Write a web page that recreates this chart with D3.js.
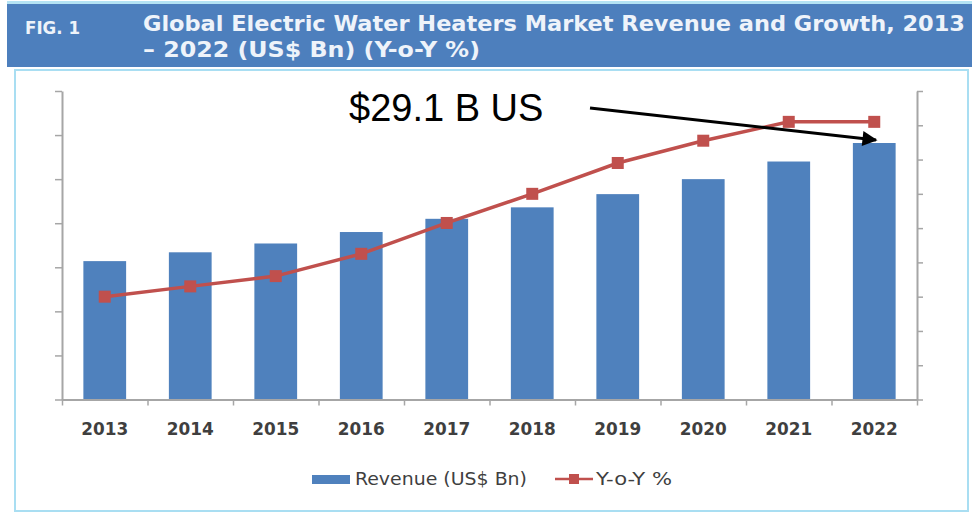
<!DOCTYPE html>
<html>
<head>
<meta charset="utf-8">
<script src="https://cdn.jsdelivr.net/npm/d3@7"></script>
<style>
  body { margin: 0; background: #fff; }
  svg { display: block; }
</style>
</head>
<body>
<svg id="chart" width="972" height="516"></svg>
<script>
const years = ["2013", "2014", "2015", "2016", "2017", "2018", "2019", "2020", "2021", "2022"];
const revenue = [15.7, 16.7, 17.7, 19.0, 20.5, 21.8, 23.3, 25.0, 27.0, 29.1];
const yoy = [3.0, 3.3, 3.6, 4.25, 5.15, 6.0, 6.9, 7.55, 8.1, 8.1];
const leftTicks = [0, 5, 10, 15, 20, 25, 30, 35];
const rightTicks = [0, 1, 2, 3, 4, 5, 6, 7, 8, 9];

const svg = d3.select("#chart");
const barColor = "#4f81bd";
const lineColor = "#c0504d";
const axisColor = "#a6a6a6";
const condensed = "DejaVu Sans Condensed, DejaVu Sans";

// frame + title banner
svg.append("rect")
  .attr("x", 15).attr("y", 70).attr("width", 953).attr("height", 441)
  .attr("fill", "#fff").attr("stroke", "#a9def2").attr("stroke-width", 2);
svg.append("rect")
  .attr("x", 7).attr("y", 1).attr("width", 965).attr("height", 3)
  .attr("fill", "#b5e3f4");
svg.append("rect")
  .attr("x", 7).attr("y", 4).attr("width", 965).attr("height", 63)
  .attr("fill", "#4d7fbd");

svg.append("text")
  .attr("x", 25).attr("y", 34)
  .attr("font-family", condensed)
  .attr("font-stretch", "condensed")
  .attr("font-weight", "bold").attr("font-size", 17)
  .attr("fill", "#eef3fa")
  .attr("textLength", 55).attr("lengthAdjust", "spacingAndGlyphs")
  .text("FIG. 1");
svg.append("text")
  .attr("x", 143).attr("y", 31)
  .attr("font-family", condensed)
  .attr("font-stretch", "condensed")
  .attr("font-weight", "bold").attr("font-size", 22)
  .attr("fill", "#eef3fa")
  .attr("textLength", 822).attr("lengthAdjust", "spacingAndGlyphs")
  .text("Global Electric Water Heaters Market Revenue and Growth, 2013");
svg.append("text")
  .attr("x", 143).attr("y", 57)
  .attr("font-family", condensed)
  .attr("font-stretch", "condensed")
  .attr("font-weight", "bold").attr("font-size", 22)
  .attr("fill", "#eef3fa")
  .attr("textLength", 337).attr("lengthAdjust", "spacingAndGlyphs")
  .text("\u2013 2022 (US$ Bn) (Y-o-Y %)");

// scales
const x0 = 62, x1 = 917, yBase = 399.5, yTop = 91;
const x = d3.scaleBand().domain(years).range([x0, x1])
  .paddingInner(0.5).paddingOuter(0.25);
const xTick = d3.scaleLinear().domain([0, years.length]).range([x0, x1]);
const yLeft = d3.scaleLinear().domain([0, 35]).range([yBase, yTop]);
const yRight = d3.scaleLinear().domain([0, 9]).range([yBase, yTop]);

// bars
svg.append("g")
  .selectAll("rect")
  .data(revenue)
  .join("rect")
  .attr("x", (d, i) => x(years[i]))
  .attr("y", d => yLeft(d))
  .attr("width", x.bandwidth())
  .attr("height", d => yBase - yLeft(d))
  .attr("fill", barColor);

// axes
function styleAxis(g) {
  g.select(".domain").attr("stroke", axisColor).attr("stroke-width", 2);
  g.selectAll(".tick line").attr("stroke", axisColor).attr("stroke-width", 1.5);
  g.selectAll(".tick text").remove();
}
svg.append("g")
  .attr("transform", `translate(${x0},0)`)
  .call(d3.axisLeft(yLeft).tickValues(leftTicks).tickSize(7).tickSizeOuter(0).tickFormat(""))
  .call(styleAxis);
svg.append("g")
  .attr("transform", `translate(${x1},0)`)
  .call(d3.axisRight(yRight).tickValues(rightTicks).tickSize(6).tickSizeOuter(0).tickFormat(""))
  .call(styleAxis);
svg.append("g")
  .attr("transform", `translate(0,${yBase})`)
  .call(d3.axisBottom(xTick).tickValues(d3.range(0, years.length + 1)).tickSize(6).tickSizeOuter(0).tickFormat(""))
  .call(styleAxis);

// category labels
svg.append("g")
  .selectAll("text")
  .data(years)
  .join("text")
  .attr("x", d => x(d) + x.bandwidth() / 2)
  .attr("y", 435)
  .attr("text-anchor", "middle")
  .attr("font-family", "DejaVu Sans")
  .attr("font-weight", "bold").attr("font-size", 18)
  .attr("fill", "#3f3f3f")
  .attr("textLength", 47).attr("lengthAdjust", "spacingAndGlyphs")
  .text(d => d);

// growth line
const line = d3.line()
  .x((d, i) => x(years[i]) + x.bandwidth() / 2)
  .y(d => yRight(d));
svg.append("path")
  .datum(yoy)
  .attr("d", line)
  .attr("fill", "none")
  .attr("stroke", lineColor)
  .attr("stroke-width", 3.5);
svg.append("g")
  .selectAll("rect")
  .data(yoy)
  .join("rect")
  .attr("x", (d, i) => x(years[i]) + x.bandwidth() / 2 - 6)
  .attr("y", d => yRight(d) - 6)
  .attr("width", 12).attr("height", 12)
  .attr("fill", lineColor);

// annotation
svg.append("defs").append("marker")
  .attr("id", "arrow")
  .attr("viewBox", "0 0 10 10")
  .attr("refX", 9).attr("refY", 5)
  .attr("markerWidth", 6).attr("markerHeight", 5)
  .attr("markerUnits", "strokeWidth")
  .attr("orient", "auto")
  .append("path")
  .attr("d", "M 0 0 L 10 5 L 0 10 z")
  .attr("fill", "#000");
svg.append("line")
  .attr("x1", 590).attr("y1", 108)
  .attr("x2", 876).attr("y2", 140)
  .attr("stroke", "#000").attr("stroke-width", 3)
  .attr("marker-end", "url(#arrow)");
svg.append("text")
  .attr("x", 349).attr("y", 121)
  .attr("font-family", "Liberation Sans, Arial")
  .attr("font-size", 38)
  .attr("fill", "#000")
  .text("$" + revenue[revenue.length - 1] + " B US");

// legend
const legend = svg.append("g")
  .attr("font-family", condensed)
  .attr("font-stretch", "condensed")
  .attr("font-size", 18)
  .attr("fill", "#3f3f3f");
legend.append("rect")
  .attr("x", 312).attr("y", 475).attr("width", 38).attr("height", 9)
  .attr("fill", barColor);
legend.append("text")
  .attr("x", 355).attr("y", 485)
  .attr("textLength", 172).attr("lengthAdjust", "spacingAndGlyphs")
  .text("Revenue (US$ Bn)");
legend.append("line")
  .attr("x1", 555).attr("x2", 593).attr("y1", 479).attr("y2", 479)
  .attr("stroke", lineColor).attr("stroke-width", 2.5);
legend.append("rect")
  .attr("x", 569).attr("y", 474).attr("width", 10).attr("height", 10)
  .attr("fill", lineColor);
legend.append("text")
  .attr("x", 596).attr("y", 485)
  .attr("textLength", 76).attr("lengthAdjust", "spacingAndGlyphs")
  .text("Y-o-Y %");
</script>
</body>
</html>
